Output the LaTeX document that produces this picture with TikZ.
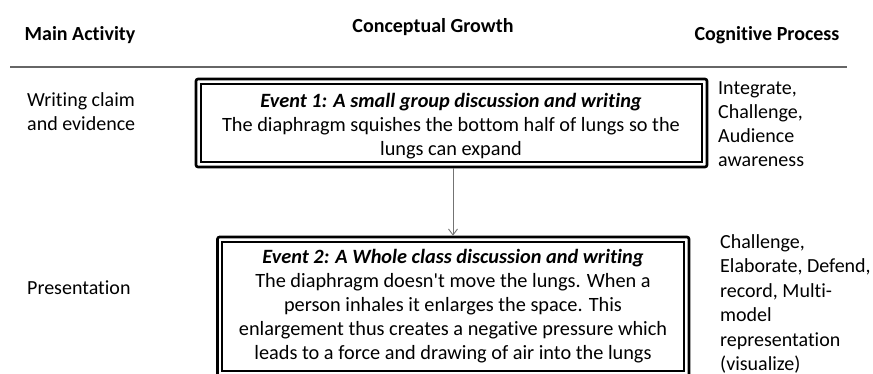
\documentclass[tikz,border=0pt]{standalone}
\usepackage{fontspec}
\setmainfont{Carlito}[Ligatures={NoCommon,TeXOff}]
\usetikzlibrary{arrows.meta}
\begin{document}
\begin{tikzpicture}[x=1pt,y=-1pt,
  hdr/.style={font=\bfseries\fontsize{20}{24}\selectfont, inner sep=0pt},
  side/.style={font=\fontsize{20}{24}\selectfont, align=left, inner sep=0pt, anchor=north west},
  body/.style={font=\fontsize{20.3}{24}\selectfont, align=center, inner sep=0pt},
  outerbox/.style={draw, line width=2.6pt, rounded corners=2pt, minimum width=#1, inner sep=0pt},
  innerline/.style={draw, line width=1.6pt},
  conn/.style={draw=black!55, line width=0.9pt, -{Straight Barb[length=6pt,width=9pt]}}]
\useasboundingbox (0,0) rectangle (873,374);
\clip (0,0) rectangle (873,374);
% headers
\node[hdr] (h1) at (80,35) {Main Activity};
\node[hdr] (h2) at (433,27) {Conceptual Growth};
\node[hdr] (h3) at (767,35) {Cognitive Process};
\draw[black!60, line width=1.5pt] (10,67) -- (847,67);
% box 1
\node[outerbox=511pt, minimum height=88pt] (b1) at (451.5,123) {};
\draw[innerline] (201,84) rectangle (702,162);
\node[body] (t1) at (451,126) {\textbf{\textit{Event 1: A small group discussion and writing}}\\
The diaphragm squishes the bottom half of lungs so the\\lungs can expand};
% box 2
\node[outerbox=471.5pt, minimum height=150pt] (b2) at (453.25,312) {};
\draw[innerline] (222,242) rectangle (684,371);
\node[body] (t2) at (453,306) {\textbf{\textit{Event 2: A Whole class discussion and writing}}\\
The diaphragm doesn't move the lungs. When a\\
person inhales it enlarges the space. This\\
enlargement thus creates a negative pressure which\\
leads to a force and drawing of air into the lungs};
% arrow
\draw[conn] (b1.south -| 453,0) -- (b2.north -| 453,0);
% left column
\node[side] (l1) at (27,92) {Writing claim\\and evidence};
\node[side] (l2) at (27,281) {Presentation};
% right column
\node[side] (r1) at (718,81) {Integrate,\\Challenge,\\Audience\\awareness};
\node[side, font=\fontsize{20}{24.5}\selectfont] (r2) at (720,234) {Challenge,\\Elaborate, Defend,\\record, Multi-\\model\\representation\\(visualize)};
\end{tikzpicture}
\end{document}
